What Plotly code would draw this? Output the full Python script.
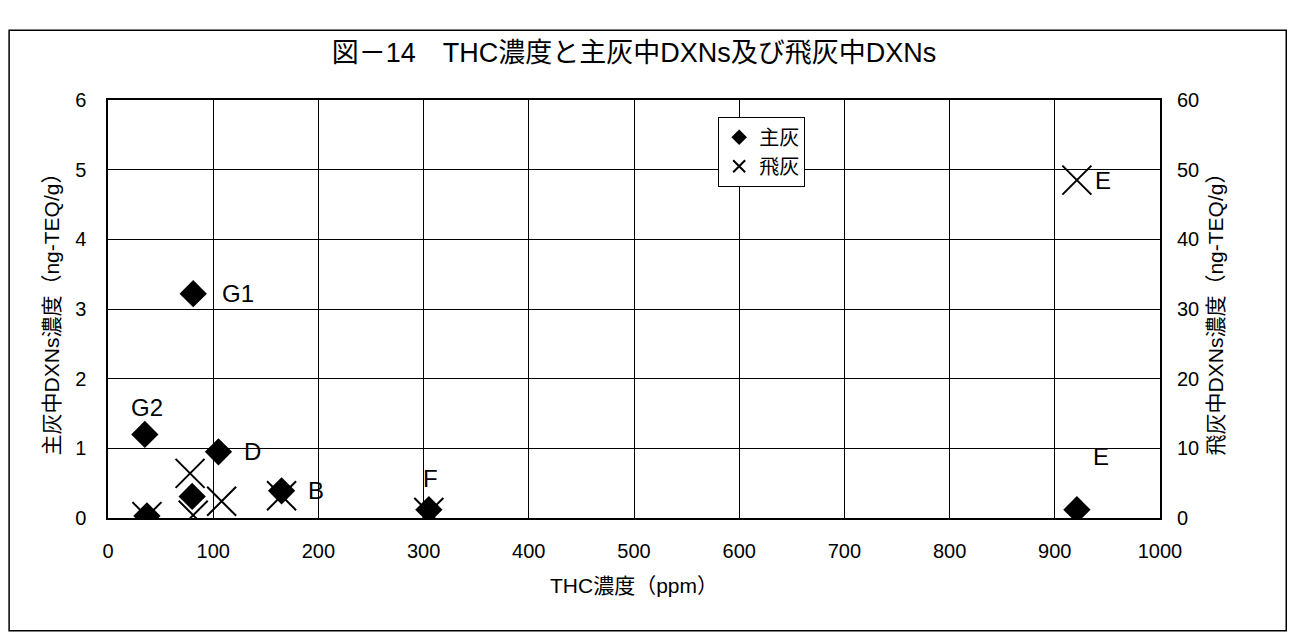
import plotly.graph_objects as go

# Main ash (主灰) – left axis
main_x = [37, 35, 80, 81, 105, 165, 305, 921]
main_y = [0.03, 1.2, 0.31, 3.22, 0.95, 0.39, 0.12, 0.12]

# Fly ash (飛灰) – right axis
fly_x = [37, 78, 81, 108, 165, 305, 921]
fly_y = [0.2, 6.4, 0.4, 2.4, 3.2, 0.8, 48.5]

# point labels: text, x, y, axis, xshift, yshift, anchor
lab_text = ["G1", "G2", "D", "B", "F", "E", "E"]
lab_x = [81, 35, 105, 165, 305, 921, 921]
lab_y = [3.22, 1.2, 0.95, 0.39, 0.12, 48.5, 0.12]
lab_axis = ["y", "y", "y", "y", "y", "y2", "y"]
lab_dx = [27, 2, 24, 24, 2, 16, 24]
lab_dy = [0, 27, 0, 0, 31, 0, 53]
lab_anchor = ["left", "center", "left", "left", "center", "left", "center"]

x_ticks = [0, 100, 200, 300, 400, 500, 600, 700, 800, 900, 1000]
y_ticks = [0, 1, 2, 3, 4, 5, 6]
y2_ticks = [0, 10, 20, 30, 40, 50, 60]

FONT = "Liberation Sans, Arial, Noto Sans CJK JP"

fig = go.Figure()
fig.add_trace(go.Scatter(
    x=main_x, y=main_y, mode="markers", name="主灰",
    marker=dict(symbol="diamond", size=21, color="black"),
    yaxis="y"))
fig.add_trace(go.Scatter(
    x=fly_x, y=fly_y, mode="markers", name="飛灰",
    marker=dict(symbol="x-thin", size=29, color="black",
                line=dict(color="black", width=2)),
    yaxis="y2"))

for t, x, y, ax, dx, dy, an in zip(lab_text, lab_x, lab_y, lab_axis,
                                   lab_dx, lab_dy, lab_anchor):
    fig.add_annotation(text=t, x=x, y=y, xref="x", yref=ax,
                       xshift=dx, yshift=dy, showarrow=False,
                       xanchor=an, yanchor="middle",
                       font=dict(size=24, color="black", family=FONT))

fig.add_shape(type="rect", xref="paper", yref="paper",
              x0=-0.094, x1=1.12, y0=-0.27, y1=1.167,
              line=dict(color="black", width=1.5), fillcolor="rgba(0,0,0,0)",
              layer="below")

fig.update_layout(
    width=1289, height=631,
    margin=dict(l=100, r=137, t=92, b=121, autoexpand=False),
    paper_bgcolor="white", plot_bgcolor="white",
    font=dict(family=FONT, size=19, color="black"),
    title=dict(text="図－14　THC濃度と主灰中DXNs及び飛灰中DXNs",
               x=0.5, xref="paper", xanchor="center",
               y=0.93, yanchor="middle",
               font=dict(size=27, family=FONT)),
    showlegend=True,
    legend=dict(x=0.58, y=0.96, xanchor="left", yanchor="top",
                bgcolor="white", bordercolor="black", borderwidth=1,
                font=dict(size=20, family=FONT), itemsizing="constant",
                tracegroupgap=2),
    xaxis=dict(range=[0, 1000], tickvals=x_ticks, showgrid=True,
               gridcolor="black", gridwidth=1, showline=True, linecolor="black",
               linewidth=1.5, mirror=True, ticks="", zeroline=False,
               ticklabelstandoff=14, tickfont=dict(size=20),
               title=dict(text="THC濃度（ppm）", standoff=18,
                          font=dict(size=21))),
    yaxis=dict(range=[0, 6], tickvals=y_ticks, showgrid=True,
               gridcolor="black", gridwidth=1, showline=True, linecolor="black",
               linewidth=1.5, mirror=True, ticks="", zeroline=False,
               ticklabelstandoff=16, tickfont=dict(size=20),
               title=dict(text="主灰中DXNs濃度（ng-TEQ/g）", standoff=10,
                          font=dict(size=21))),
    yaxis2=dict(range=[0, 60], tickvals=y2_ticks, overlaying="y", side="right",
                showgrid=False, showline=False, ticks="", zeroline=False,
                ticklabelstandoff=16, tickfont=dict(size=20),
                title=dict(text="飛灰中DXNs濃度（ng-TEQ/g）", standoff=10,
                           font=dict(size=21))),
)

fig.write_html("out.html")
